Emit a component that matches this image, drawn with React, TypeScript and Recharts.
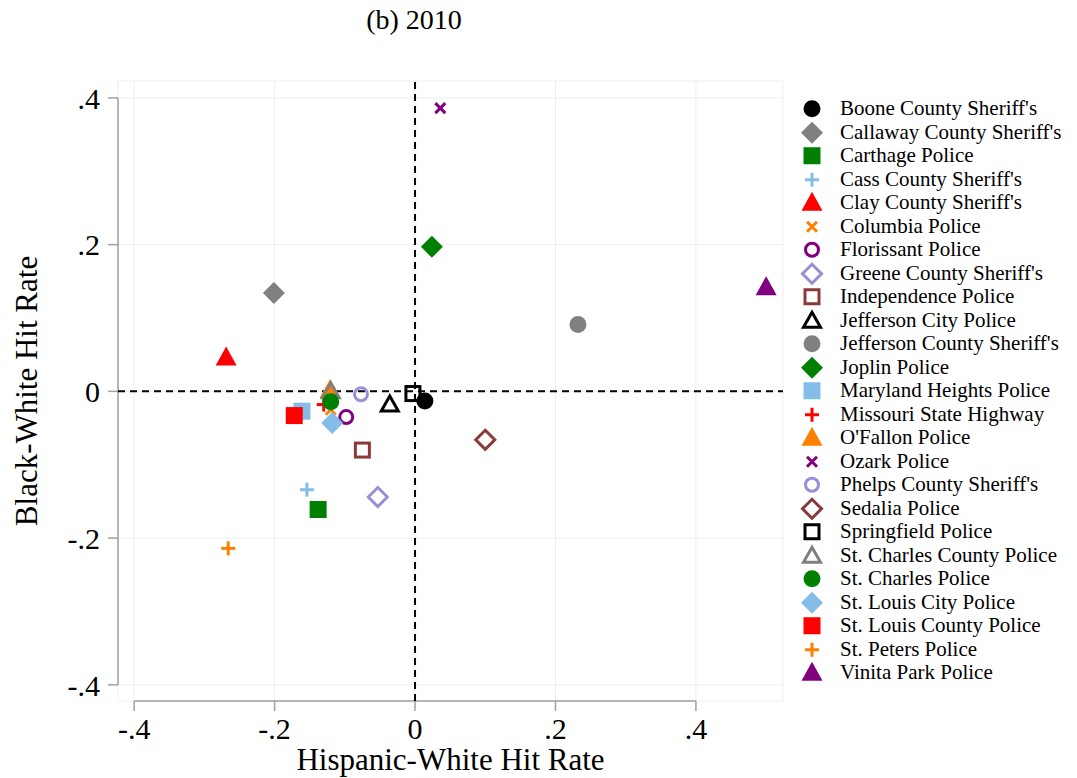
import { ScatterChart, Scatter, XAxis, YAxis, CartesianGrid, ReferenceLine } from 'recharts'

const agencies = [
  "Boone County Sheriff's",
  "Callaway County Sheriff's",
  'Carthage Police',
  "Cass County Sheriff's",
  "Clay County Sheriff's",
  'Columbia Police',
  'Florissant Police',
  "Greene County Sheriff's",
  'Independence Police',
  'Jefferson City Police',
  "Jefferson County Sheriff's",
  'Joplin Police',
  'Maryland Heights Police',
  'Missouri State Highway',
  "O'Fallon Police",
  'Ozark Police',
  "Phelps County Sheriff's",
  'Sedalia Police',
  'Springfield Police',
  'St. Charles County Police',
  'St. Charles Police',
  'St. Louis City Police',
  'St. Louis County Police',
  'St. Peters Police',
  'Vinita Park Police',
]

// hispanic-white hit rate (x)
const hispanicWhite = [
  0.014, -0.201, -0.138, -0.154, -0.269, -0.12, -0.098, -0.053, -0.075, -0.036,
  0.232, 0.024, -0.161, -0.13, -0.121, 0.036, -0.077, 0.1, -0.003, -0.12,
  -0.12, -0.118, -0.172, -0.266, 0.5,
]

// black-white hit rate (y)
const blackWhite = [
  -0.013, 0.134, -0.161, -0.134, 0.046, -0.025, -0.035, -0.144, -0.08, -0.018,
  0.091, 0.197, -0.027, -0.018, 0.002, 0.386, -0.004, -0.066, -0.003, 0.0,
  -0.014, -0.043, -0.033, -0.214, 0.142,
]

const xTicks = [-0.4, -0.2, 0, 0.2, 0.4]
const yTicks = [-0.4, -0.2, 0, 0.2, 0.4]

const markerKinds = [
  'circle', 'diamond', 'square', 'plus', 'triangle', 'x', 'circleO', 'diamondO', 'squareO', 'triangleO',
  'circle', 'diamond', 'square', 'plus', 'triangle', 'x', 'circleO', 'diamondO', 'squareO', 'triangleO',
  'circle', 'diamond', 'square', 'plus', 'triangle',
]

const markerColors = [
  '#000000', '#808080', '#008000', '#84bde8', '#ff0000', '#ff7f00', '#800080', '#9a8fd6', '#8b3a3a', '#000000',
  '#808080', '#008000', '#84bde8', '#ff0000', '#ff7f00', '#800080', '#9a8fd6', '#8b3a3a', '#000000', '#808080',
  '#008000', '#84bde8', '#ff0000', '#ff7f00', '#800080',
]

const FONT = '"Liberation Serif", "Times New Roman", serif'
const AXIS_GRAY = '#a0a0a0'
const X_DOMAIN = [-0.423, 0.524]
const Y_DOMAIN = [-0.422, 0.423]

const fmt = (v: number) => String(v).replace(/^(-?)0\./, '$1.')

function Marker({ kind, color, cx, cy }: { kind: string; color: string; cx: number; cy: number }) {
  switch (kind) {
    case 'circle':
      return <circle cx={cx} cy={cy} r={8.5} fill={color} />
    case 'diamond':
      return <polygon points={`${cx},${cy - 11} ${cx + 11},${cy} ${cx},${cy + 11} ${cx - 11},${cy}`} fill={color} />
    case 'square':
      return <rect x={cx - 8.5} y={cy - 8.5} width={17} height={17} fill={color} />
    case 'triangle':
      return <polygon points={`${cx},${cy - 11} ${cx + 10.5},${cy + 8} ${cx - 10.5},${cy + 8}`} fill={color} />
    case 'plus':
      return (
        <g stroke={color} strokeWidth={3}>
          <line x1={cx - 7} y1={cy} x2={cx + 7} y2={cy} />
          <line x1={cx} y1={cy - 7} x2={cx} y2={cy + 7} />
        </g>
      )
    case 'x':
      return (
        <g stroke={color} strokeWidth={3}>
          <line x1={cx - 5} y1={cy - 5} x2={cx + 5} y2={cy + 5} />
          <line x1={cx - 5} y1={cy + 5} x2={cx + 5} y2={cy - 5} />
        </g>
      )
    case 'circleO':
      return <circle cx={cx} cy={cy} r={6.5} fill="none" stroke={color} strokeWidth={3} />
    case 'diamondO':
      return (
        <polygon
          points={`${cx},${cy - 9.5} ${cx + 9.5},${cy} ${cx},${cy + 9.5} ${cx - 9.5},${cy}`}
          fill="none"
          stroke={color}
          strokeWidth={3}
        />
      )
    case 'squareO':
      return <rect x={cx - 7} y={cy - 7} width={14} height={14} fill="none" stroke={color} strokeWidth={3} />
    case 'triangleO':
      return (
        <polygon
          points={`${cx},${cy - 8.5} ${cx + 8.5},${cy + 6.5} ${cx - 8.5},${cy + 6.5}`}
          fill="none"
          stroke={color}
          strokeWidth={3}
        />
      )
    default:
      return null
  }
}

function LegendBox() {
  return (
    <div style={{ position: 'absolute', left: 796, top: 97, fontFamily: FONT, fontSize: 21, color: '#000' }}>
      {agencies.map((name, i) => (
        <div key={name} style={{ display: 'flex', alignItems: 'center', height: 23.5, whiteSpace: 'nowrap' }}>
          <svg width={44} height={23.5} style={{ flex: 'none' }}>
            <Marker kind={markerKinds[i]} color={markerColors[i]} cx={16} cy={11.75} />
          </svg>
          <span>{name}</span>
        </div>
      ))}
    </div>
  )
}

export default function App() {
  return (
    <div style={{ position: 'absolute', left: 0, top: 0, width: 1077, height: 778, background: '#fff' }}>
      <div
        style={{
          position: 'absolute',
          left: 314,
          top: 5,
          width: 200,
          textAlign: 'center',
          fontFamily: FONT,
          fontSize: 28,
          lineHeight: '30px',
        }}
      >
        (b) 2010
      </div>
      <ScatterChart width={1077} height={778} margin={{ top: 81, right: 294, bottom: 0, left: 0 }}>
        <CartesianGrid stroke="#eeeeee" strokeWidth={1} />
        <XAxis
          type="number"
          dataKey="x"
          domain={X_DOMAIN}
          allowDataOverflow
          ticks={xTicks}
          tickFormatter={fmt}
          axisLine={false}
          tickLine={{ stroke: AXIS_GRAY, strokeWidth: 1.5 }}
          tickSize={10}
          tickMargin={7}
          height={77}
          tick={{ fill: '#000', fontSize: 30, fontFamily: FONT }}
          label={{
            value: 'Hispanic-White Hit Rate',
            position: 'insideBottom',
            offset: 8,
            style: { fill: '#000', fontSize: 31, fontFamily: FONT },
          }}
        />
        <YAxis
          type="number"
          dataKey="y"
          domain={Y_DOMAIN}
          allowDataOverflow
          ticks={yTicks}
          tickFormatter={fmt}
          axisLine={false}
          tickLine={{ stroke: AXIS_GRAY, strokeWidth: 1.5 }}
          tickSize={10}
          tickMargin={8}
          width={118}
          tick={{ fill: '#000', fontSize: 30, fontFamily: FONT }}
          label={{
            value: 'Black-White Hit Rate',
            angle: -90,
            position: 'insideLeft',
            offset: 26,
            style: { fill: '#000', fontSize: 31, fontFamily: FONT, textAnchor: 'middle' },
          }}
        />
        <ReferenceLine
          segment={[{ x: X_DOMAIN[0], y: -0.4 }, { x: X_DOMAIN[0], y: 0.4 }]}
          stroke={AXIS_GRAY}
          strokeWidth={1.5}
          ifOverflow="visible"
        />
        <ReferenceLine
          segment={[{ x: -0.4, y: Y_DOMAIN[0] }, { x: 0.4, y: Y_DOMAIN[0] }]}
          stroke={AXIS_GRAY}
          strokeWidth={1.5}
          ifOverflow="visible"
        />
        <ReferenceLine x={0} stroke="#000" strokeWidth={2} strokeDasharray="7 5" />
        <ReferenceLine y={0} stroke="#000" strokeWidth={2} strokeDasharray="7 5" />
        {agencies.map((name, i) => (
          <Scatter
            key={name}
            name={name}
            data={[{ x: hispanicWhite[i], y: blackWhite[i] }]}
            isAnimationActive={false}
            shape={(p: any) => <Marker kind={markerKinds[i]} color={markerColors[i]} cx={p.cx} cy={p.cy} />}
          />
        ))}
      </ScatterChart>
      <LegendBox />
    </div>
  )
}
